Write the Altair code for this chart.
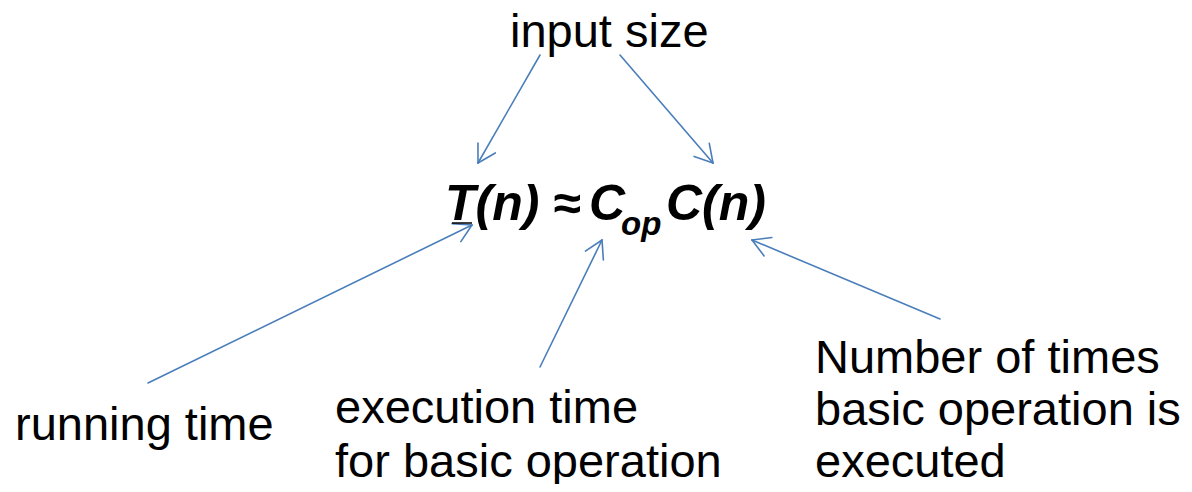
import math
import altair as alt
import pandas as pd

# ---- diagram content ----
# plain labels: (text, left x, baseline y)
label_text = ["input size", "running time",
              "execution time", "for basic operation",
              "Number of times", "basic operation is", "executed"]
label_x = [510, 15, 335, 335, 815, 815, 815]
label_y = [47, 440, 423, 477, 373, 425, 477]

# formula pieces (bold italic): T(n) ≈ C_op C(n)
formula_text = ["T(n)", "≈", "C", "op", "C(n)"]
formula_x = [445, 553, 589, 621, 666]
formula_y = [220, 220, 220, 235, 220]
formula_size = [50, 50, 50, 33, 50]

# arrows: start point -> tip
arrow_x1 = [540, 620, 148, 540, 940]
arrow_y1 = [55, 55, 383, 367, 319]
arrow_x2 = [478, 713, 472, 602, 752]
arrow_y2 = [163, 163, 225, 240, 240]

# small underline under the T
under_x = [452, 472]
under_y = [223, 223]

HEAD_LEN = 20
HEAD_ANG = math.radians(30)

segs = []
for x1, y1, x2, y2 in zip(arrow_x1, arrow_y1, arrow_x2, arrow_y2):
    segs.append(dict(x=x1, y=y1, x2=x2, y2=y2))
    dx, dy = x1 - x2, y1 - y2
    L = math.hypot(dx, dy)
    ux, uy = dx / L, dy / L
    for s in (1, -1):
        a = s * HEAD_ANG
        wx = ux * math.cos(a) - uy * math.sin(a)
        wy = ux * math.sin(a) + uy * math.cos(a)
        segs.append(dict(x=x2, y=y2, x2=x2 + HEAD_LEN * wx, y2=y2 + HEAD_LEN * wy))
seg_df = pd.DataFrame(segs)

xs = alt.Scale(domain=[8, 1184], range=[0, 1176], nice=False, zero=False)
ys = alt.Scale(domain=[8, 484], range=[0, 476], nice=False, zero=False)

arrows = alt.Chart(seg_df).mark_rule(color="#4A7EBB", strokeWidth=1.6, strokeCap="round").encode(
    x=alt.X("x:Q", scale=xs, axis=None),
    y=alt.Y("y:Q", scale=ys, axis=None),
    x2="x2:Q", y2="y2:Q",
)

under_df = pd.DataFrame(dict(x=[under_x[0]], y=[under_y[0]], x2=[under_x[1]], y2=[under_y[1]]))
underline = alt.Chart(under_df).mark_rule(color="black", strokeWidth=1.5).encode(
    x=alt.X("x:Q", scale=xs, axis=None),
    y=alt.Y("y:Q", scale=ys, axis=None),
    x2="x2:Q", y2="y2:Q",
)

lab_df = pd.DataFrame(dict(t=label_text, x=label_x, y=label_y))
labels = alt.Chart(lab_df).mark_text(
    align="left", baseline="alphabetic", font="Liberation Sans", fontSize=47, color="black"
).encode(
    x=alt.X("x:Q", scale=xs, axis=None),
    y=alt.Y("y:Q", scale=ys, axis=None),
    text="t:N",
)

form_df = pd.DataFrame(dict(t=formula_text, x=formula_x, y=formula_y, s=formula_size))
formula = alt.Chart(form_df).mark_text(
    align="left", baseline="alphabetic", font="Liberation Sans",
    fontWeight="bold", fontStyle="italic", color="black"
).encode(
    x=alt.X("x:Q", scale=xs, axis=None),
    y=alt.Y("y:Q", scale=ys, axis=None),
    text="t:N",
    size=alt.Size("s:Q", scale=None, legend=None),
)

chart = alt.layer(arrows, underline, labels, formula).properties(
    width=1176, height=476, padding=0, background="white",
    autosize=alt.AutoSizeParams(type="fit", contains="padding"),
).configure_view(strokeWidth=0, stroke="transparent")

chart.save("out.html", embed_options={"renderer": "svg", "actions": False})
